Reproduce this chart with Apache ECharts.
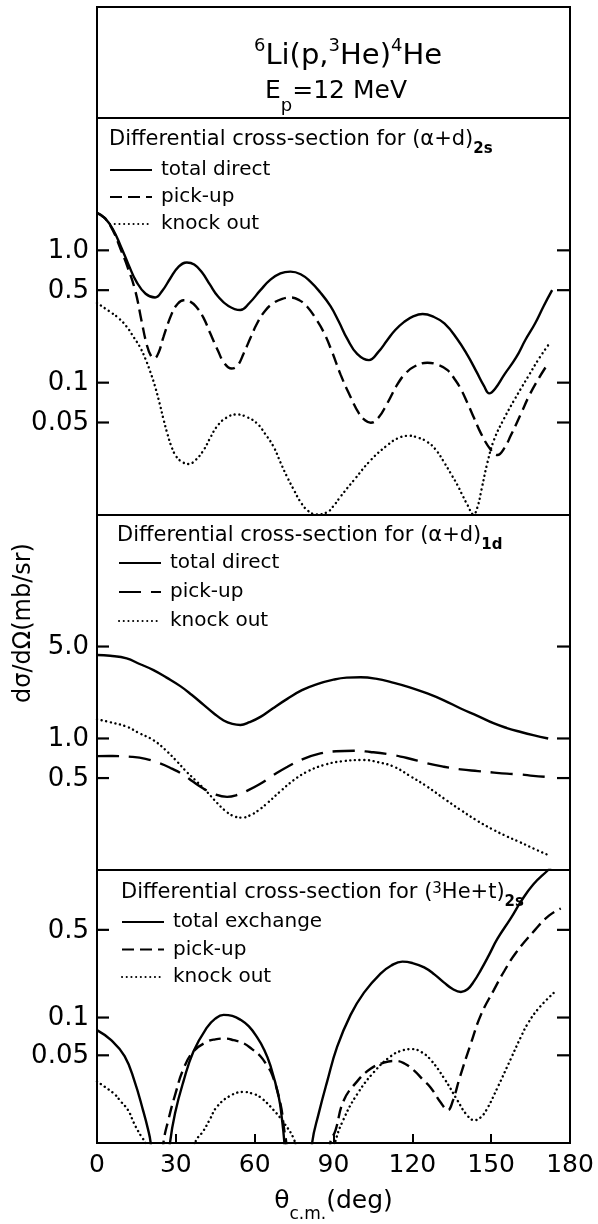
<!DOCTYPE html>
<html><head><meta charset="utf-8">
<script src="https://cdn.jsdelivr.net/npm/echarts@6/dist/echarts.min.js"></script>
<style>html,body{margin:0;padding:0;background:#fff}#c{width:598px;height:1224px}</style>
</head><body><div id="c"></div>
<script>
// ---- data (angle in deg, dσ/dΩ in mb/sr) ----
const X_RANGE = [0, 180];
const X_INTERVAL = 30;

const P1_YRANGE = [0.01, 10];
const P1_YTICKS = [1.0, 0.5, 0.1, 0.05];
const P1_YLABELS = ['1.0', '0.5', '0.1', '0.05'];
const P2_YRANGE = [0.1, 50];
const P2_YTICKS = [5.0, 1.0, 0.5];
const P2_YLABELS = ['5.0', '1.0', '0.5'];
const P3_YRANGE = [0.01, 1.5];
const P3_YTICKS = [0.5, 0.1, 0.05];
const P3_YLABELS = ['0.5', '0.1', '0.05'];

// panel 1 : (α+d)2s
const P1_TOTAL = [[0,1.92],[3,1.75],[6,1.45],[9,1.08],[12,0.78],[15,0.58],[18.5,0.47],[22.1,0.44],[25,0.50],[27.8,0.61],[31,0.75],[34.2,0.81],[37,0.78],[40,0.68],[43,0.55],[46,0.45],[50,0.38],[54.5,0.354],[58,0.40],[62.2,0.50],[66,0.60],[69.8,0.67],[73.6,0.69],[77.5,0.66],[81.2,0.58],[85,0.48],[88.8,0.38],[92,0.29],[95.2,0.215],[99,0.165],[103.5,0.148],[107,0.17],[110.5,0.21],[113.5,0.25],[116.9,0.288],[120.5,0.318],[123.9,0.33],[128,0.315],[132.2,0.28],[137,0.215],[141.1,0.16],[144.5,0.12],[147.2,0.095],[149.3,0.083],[151.5,0.09],[155,0.115],[159.5,0.155],[163,0.21],[166.7,0.28],[170,0.38],[173.2,0.50]];
const P1_PICK = [[0,1.92],[3,1.75],[6,1.42],[9,1.02],[11.5,0.76],[14.5,0.50],[17,0.29],[18.9,0.195],[20.5,0.16],[21.8,0.153],[23.5,0.17],[25.3,0.222],[28.5,0.334],[30.5,0.39],[32.9,0.42],[35.5,0.41],[38,0.37],[40.5,0.31],[43.1,0.236],[46,0.175],[48.5,0.14],[51.2,0.128],[53.5,0.135],[55.8,0.166],[58.5,0.22],[60.9,0.28],[64,0.35],[67.2,0.40],[70.5,0.43],[73.6,0.44],[77,0.42],[80,0.375],[83,0.31],[86.3,0.24],[89.5,0.17],[92.7,0.115],[96.5,0.078],[99.7,0.0586],[102,0.052],[104.2,0.0498],[107,0.054],[110.5,0.07],[114.3,0.097],[117.5,0.118],[120.6,0.132],[125.7,0.1415],[130,0.136],[133.4,0.1245],[136,0.107],[138.4,0.09],[141,0.07],[143.5,0.054],[146.1,0.0414],[149.9,0.031],[152.4,0.0284],[155,0.032],[157.5,0.04],[161.3,0.058],[164.5,0.08],[168,0.107],[171.7,0.14]];
const P1_KNOCK = [[0,0.40],[5,0.343],[8,0.31],[11.3,0.265],[14,0.22],[16.4,0.185],[18.5,0.15],[20.2,0.122],[22,0.095],[23.8,0.07],[25.3,0.053],[26.8,0.041],[28.3,0.033],[30,0.028],[32,0.0255],[34.8,0.0243],[37.5,0.026],[40.6,0.031],[43,0.038],[45.6,0.0465],[49,0.054],[53.3,0.0575],[57,0.055],[60.9,0.0492],[64,0.041],[67.2,0.0328],[69.8,0.025],[72.3,0.0195],[74.9,0.0155],[77.4,0.0126],[80.2,0.0108],[83.5,0.0101],[87.6,0.0105],[90,0.0117],[92.7,0.0138],[97.8,0.0184],[104.2,0.026],[110.5,0.0337],[114.5,0.038],[118.8,0.0397],[122,0.0385],[125.7,0.0357],[129,0.031],[132.1,0.025],[135,0.02],[137.2,0.0168],[139,0.0142],[141,0.0119],[143.3,0.0101],[144.8,0.0115],[146.3,0.0155],[148.6,0.025],[151.1,0.037],[155,0.054],[158.8,0.074],[161.3,0.09],[164.5,0.115],[168,0.15],[171.7,0.192]];

// panel 2 : (α+d)1d
const P2_TOTAL = [[0,4.31],[5,4.25],[11.3,4.06],[16,3.7],[21.5,3.31],[26.5,2.9],[31.7,2.5],[36,2.15],[40.6,1.8],[44.5,1.55],[48.2,1.37],[51.5,1.29],[54.6,1.265],[58,1.33],[62.2,1.46],[67,1.7],[72.4,2.0],[78,2.33],[83.8,2.59],[90,2.8],[95,2.9],[100.3,2.92],[106,2.85],[113,2.65],[119,2.45],[125.7,2.20],[132,1.95],[138.4,1.69],[145,1.48],[151.1,1.30],[156,1.2],[161.3,1.12],[166,1.06],[171.7,1.0]];
const P2_PICK = [[0,0.734],[6,0.735],[13.3,0.725],[18.5,0.70],[24,0.647],[28.5,0.59],[32.9,0.53],[36.5,0.47],[40.6,0.415],[45,0.375],[49.5,0.36],[53,0.37],[57.1,0.4],[62,0.45],[67.2,0.527],[72.5,0.61],[78.6,0.7],[85,0.77],[91,0.8],[97.7,0.807],[104,0.79],[110.4,0.762],[118,0.71],[125.7,0.647],[132,0.61],[138.4,0.582],[145,0.565],[151.1,0.55],[156,0.54],[161.3,0.533],[166,0.52],[171.7,0.51]];
const P2_KNOCK = [[0,1.40],[5,1.33],[11.3,1.23],[16,1.1],[21.5,0.97],[26,0.82],[30.4,0.67],[34,0.56],[38,0.47],[42,0.39],[45.6,0.325],[49,0.28],[52,0.257],[55.2,0.25],[58.5,0.262],[61.5,0.285],[64.7,0.321],[70,0.4],[74.9,0.483],[80,0.56],[86.3,0.628],[93,0.67],[101.6,0.686],[107,0.66],[113,0.61],[119,0.52],[125.7,0.43],[132,0.35],[138.4,0.286],[145,0.235],[151.1,0.201],[156,0.18],[160.6,0.164],[166,0.146],[171.7,0.13]];

// panel 3 : (3He+t)2s   (null = curve leaves the frame)
const P3_TOTAL = [[0,0.0794],[5.4,0.066],[10.5,0.0492],[14.3,0.031],[17.5,0.0183],[19.4,0.0129],[20.4,0.0101],[21.2,0.006],null,
  [27,0.006],[27.8,0.0101],[29.7,0.0173],[32.9,0.031],[36.7,0.0537],[41.8,0.083],[45,0.098],[48.2,0.105],[51.5,0.103],[54.6,0.096],[57.8,0.085],[60.9,0.0698],[63.5,0.056],[66,0.0414],[69.2,0.0231],[70.4,0.0154],[71.3,0.0101],[71.9,0.006],null,
  [81.3,0.006],[81.9,0.0101],[84.4,0.0173],[87.6,0.031],[91.4,0.0586],[96.5,0.105],[101.6,0.158],[107.9,0.224],[112,0.26],[116.2,0.279],[120,0.272],[124.5,0.251],[128.5,0.22],[132.1,0.19],[135.5,0.168],[138.5,0.16],[141,0.168],[143.5,0.195],[146.1,0.24],[149,0.31],[152.4,0.425],[157.5,0.62],[161.3,0.84],[166,1.15],[171.7,1.5],[173,1.6]];
const P3_PICK = [[24.6,0.006],[25.3,0.0101],[27.2,0.0154],[29.8,0.0245],[32.9,0.039],[36.7,0.0537],[41.8,0.064],[45,0.067],[48.8,0.068],[52,0.066],[55.8,0.0623],[59,0.056],[62.2,0.0492],[64.5,0.042],[66.7,0.0348],[69.8,0.0206],[71.3,0.0125],[72,0.0101],[72.6,0.006],null,
  [88.2,0.006],[88.8,0.0101],[90.7,0.0125],[93.9,0.0218],[99,0.031],[104.1,0.039],[109.2,0.0438],[113.7,0.0451],[117,0.043],[120.6,0.0379],[124,0.032],[127,0.0276],[130.8,0.021],[133.5,0.0183],[135.5,0.022],[138,0.033],[142.3,0.0623],[146.1,0.105],[151.1,0.167],[155,0.235],[159.5,0.33],[166.7,0.5],[172,0.65],[176.5,0.74]];
const P3_KNOCK = [[0,0.031],[3,0.028],[6.7,0.0245],[9,0.0215],[11.8,0.0183],[14,0.0145],[15.6,0.0125],[17.2,0.011],[18.4,0.0101],[19,0.008],null,
  [36.8,0.008],[37.4,0.0101],[40.5,0.0125],[43,0.0155],[45.6,0.0194],[50.7,0.0238],[55.8,0.0255],[59,0.0248],[62.2,0.0231],[67.2,0.0183],[71.1,0.0145],[74.9,0.0108],[75.6,0.009],null,
  [90,0.008],[90.6,0.0101],[93.8,0.0154],[99,0.0245],[105.4,0.0368],[111.8,0.0492],[116,0.0545],[120,0.056],[123.5,0.053],[127,0.046],[132.1,0.0328],[137.2,0.0218],[140.5,0.017],[143.6,0.0152],[146,0.016],[148.6,0.019],[152.4,0.0276],[157.5,0.047],[161.3,0.07],[164,0.09],[168,0.118],[173.9,0.158]];

// ---- chart ----
const FONT = '"DejaVu Sans", sans-serif';
const INK = '#000';
const chart = echarts.init(document.getElementById('c'), null, {renderer: 'canvas'});

const GRIDS = [
  {left: 97, width: 473, top: 118, height: 397},
  {left: 97, width: 473, top: 515, height: 355},
  {left: 97, width: 473, top: 870, height: 288}
];
const YRANGES = [P1_YRANGE, P2_YRANGE, P3_YRANGE];

function toData(arr) {
  return arr.map((p, i) => p === null ? [arr[i-1][0], '-'] : p);
}

const SOLID = {color: INK, width: 2.4, type: 'solid'};
const DASH_S = {color: INK, width: 2.4, type: [12, 6]};
const DASH_L = {color: INK, width: 2.4, type: [22, 10]};
const DOT = {color: INK, width: 2.4, type: [0.1, 4.6], cap: 'round'};

function line(name, gi, data, ls) {
  return {
    name, type: 'line', xAxisIndex: gi, yAxisIndex: gi,
    data: toData(data), showSymbol: false, symbol: 'none',
    smooth: 0.45, clip: true,
    lineStyle: ls, itemStyle: {color: INK}, silent: true
  };
}

function tickSeries(gi, ticks, labels) {
  return {
    type: 'custom', xAxisIndex: gi, yAxisIndex: gi, silent: true,
    data: ticks.map(v => [X_RANGE[0], v]),
    encode: {x: 0, y: 1},
    renderItem: function (params, api) {
      const cs = params.coordSys;
      const y = api.coord([X_RANGE[0], api.value(1)])[1];
      return {
        type: 'group',
        children: [
          {type: 'line', shape: {x1: cs.x, y1: y, x2: cs.x + 12, y2: y}, style: {stroke: INK, lineWidth: 2.2}},
          {type: 'line', shape: {x1: cs.x + cs.width - 13, y1: y, x2: cs.x + cs.width, y2: y}, style: {stroke: INK, lineWidth: 2.2}},
          {type: 'text', x: cs.x - 8, y: y + 1,
           style: {text: labels[params.dataIndex], fill: INK, font: '26px ' + FONT, align: 'right', verticalAlign: 'middle'}}
        ]
      };
    }
  };
}

const xAxes = GRIDS.map((g, i) => ({
  gridIndex: i, type: 'value', min: X_RANGE[0], max: X_RANGE[1], interval: X_INTERVAL,
  show: i === 2,
  axisLine: {show: false}, splitLine: {show: false},
  axisTick: {show: true, inside: true, length: 9, lineStyle: {color: INK, width: 2}},
  axisLabel: {show: true, color: INK, fontSize: 25, fontFamily: FONT, margin: 10},
  name: i === 2 ? '{a|θ}{s|c.m.}{a|(deg)}' : '',
  nameLocation: 'middle', nameGap: 46,
  nameTextStyle: {color: INK, rich: {
    a: {fontSize: 25, fontFamily: FONT, color: INK, lineHeight: 34, verticalAlign: 'top'},
    s: {fontSize: 17, fontFamily: FONT, color: INK, lineHeight: 17, verticalAlign: 'bottom'}
  }}
}));

const yAxes = GRIDS.map((g, i) => ({
  gridIndex: i, type: 'log', logBase: 10, min: YRANGES[i][0], max: YRANGES[i][1],
  axisLine: {show: false}, axisTick: {show: false}, axisLabel: {show: false}, splitLine: {show: false}
}));

const RICH_T = {
  t: {fontSize: 21, fontFamily: FONT, fontWeight: 'normal', color: INK, lineHeight: 28, verticalAlign: 'top'},
  s: {fontSize: 15, fontFamily: FONT, fontWeight: 'bold', color: INK, lineHeight: 15, verticalAlign: 'bottom'},
  u: {fontSize: 15, fontFamily: FONT, fontWeight: 'normal', color: INK, lineHeight: 17, verticalAlign: 'top'}
};

const legendText = {color: INK, fontSize: 20, fontFamily: FONT, padding: [0, 0, 0, 4]};
const legendItem = {opacity: 0, color: 'transparent', borderWidth: 0};

const option = {
  animation: false,
  backgroundColor: '#fff',
  grid: GRIDS.map(g => Object.assign({show: true, borderColor: INK, borderWidth: 2, backgroundColor: 'transparent'}, g)),
  xAxis: xAxes,
  yAxis: yAxes,
  title: [
    {text: '{u|6}{m|Li(p,}{u|3}{m|He)}{u|4}{m|He}', left: 343, top: 32, textAlign: 'center',
     textStyle: {fontWeight: 'normal', rich: {
       m: {fontSize: 29, fontFamily: FONT, fontWeight: 'normal', color: INK, lineHeight: 34, verticalAlign: 'bottom'},
       u: {fontSize: 18, fontFamily: FONT, fontWeight: 'normal', color: INK, lineHeight: 24, verticalAlign: 'top'}}}},
    {text: '{m|E}{d|p}{m|=12 MeV}', left: 331, top: 74, textAlign: 'center',
     textStyle: {fontWeight: 'normal', rich: {
       m: {fontSize: 25, fontFamily: FONT, fontWeight: 'normal', color: INK, lineHeight: 28, verticalAlign: 'top'},
       d: {fontSize: 18, fontFamily: FONT, fontWeight: 'normal', color: INK, lineHeight: 18, verticalAlign: 'bottom', padding: [0, 0, -8, 0]}}}},
    {text: '{t|Differential cross-section for (α+d)}{s|2s}', left: 104, top: 124, textStyle: {fontWeight: 'normal', rich: RICH_T}},
    {text: '{t|Differential cross-section for (α+d)}{s|1d}', left: 112, top: 520, textStyle: {fontWeight: 'normal', rich: RICH_T}},
    {text: '{t|Differential cross-section for (}{u|3}{t|He+t)}{s|2s}', left: 116, top: 877, textStyle: {fontWeight: 'normal', rich: RICH_T}}
  ],
  legend: [
    {data: ['total direct', 'pick-up', 'knock out'], orient: 'vertical', left: 104, top: 155,
     itemWidth: 42, itemHeight: 20, itemGap: 7, textStyle: legendText, itemStyle: legendItem, selectedMode: false},
    {data: ['total direct ', 'pick-up ', 'knock out '], orient: 'vertical', left: 113, top: 548,
     itemWidth: 42, itemHeight: 20, itemGap: 9, textStyle: legendText, itemStyle: legendItem, selectedMode: false},
    {data: ['total exchange', 'pick-up  ', 'knock out  '], orient: 'vertical', left: 116, top: 907,
     itemWidth: 42, itemHeight: 20, itemGap: 7.5, textStyle: legendText, itemStyle: legendItem, selectedMode: false}
  ],
  graphic: [
    {type: 'rect', shape: {x: 97, y: 7, width: 473, height: 111}, style: {fill: 'none', stroke: INK, lineWidth: 2}, silent: true},
    {type: 'text', x: 24, y: 623, rotation: Math.PI / 2, silent: true,
     style: {text: 'dσ/dΩ(mb/sr)', font: '24px ' + FONT, fill: INK, align: 'center', verticalAlign: 'middle', textAlign: 'center', textVerticalAlign: 'middle'}}
  ],
  series: [
    line('total direct', 0, P1_TOTAL, SOLID),
    line('pick-up', 0, P1_PICK, DASH_S),
    line('knock out', 0, P1_KNOCK, DOT),
    line('total direct ', 1, P2_TOTAL, SOLID),
    line('pick-up ', 1, P2_PICK, DASH_L),
    line('knock out ', 1, P2_KNOCK, DOT),
    line('total exchange', 2, P3_TOTAL, SOLID),
    line('pick-up  ', 2, P3_PICK, DASH_S),
    line('knock out  ', 2, P3_KNOCK, DOT),
    tickSeries(0, P1_YTICKS, P1_YLABELS),
    tickSeries(1, P2_YTICKS, P2_YLABELS),
    tickSeries(2, P3_YTICKS, P3_YLABELS)
  ]
};
chart.setOption(option);
</script></body></html>
